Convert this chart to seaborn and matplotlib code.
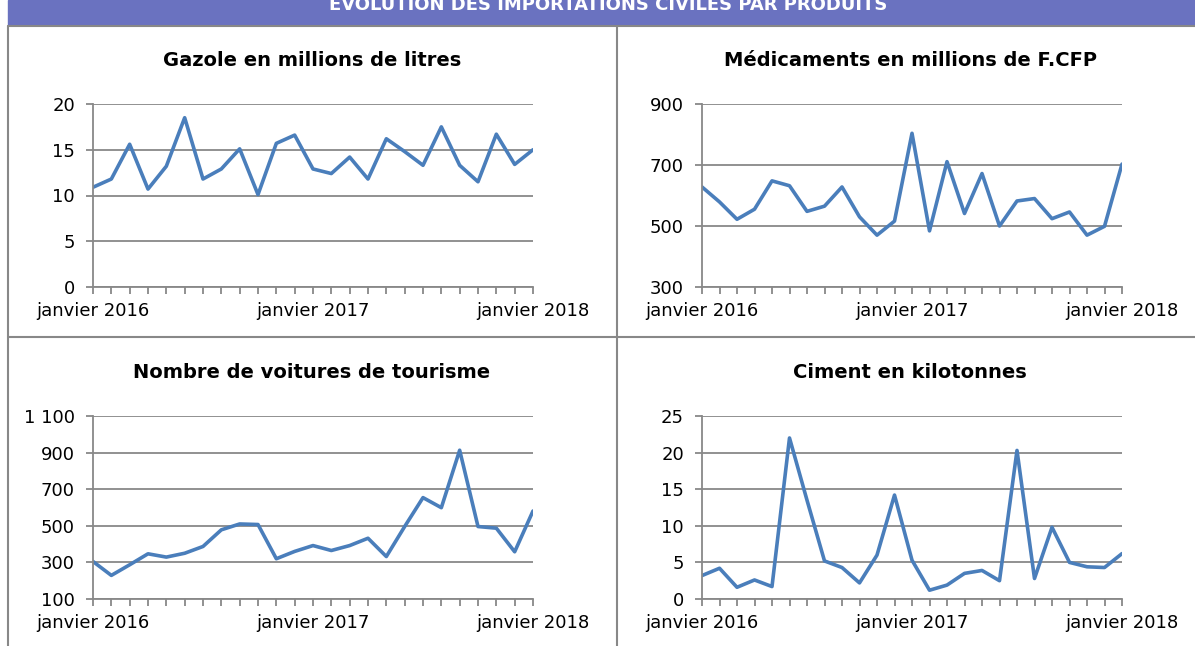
import numpy as np
import pandas as pd
import seaborn as sns
import matplotlib.pyplot as plt
from matplotlib.lines import Line2D
from matplotlib.patches import Rectangle
from matplotlib.ticker import FuncFormatter

sns.set_style("white")
plt.rcParams['font.family'] = ['DejaVu Sans']
plt.rcParams['text.color'] = 'black'

# ------ données (mensuelles, janvier 2016 -> janvier 2018) ------ #
mois = [d.strftime('%m/%Y') for d in pd.date_range('2016-01-01', periods=25, freq='MS')]
mois_labels = ['janvier %s' % m[3:] if m.startswith('01') else '' for m in mois]

gazole = [10.9, 11.8, 15.6, 10.7, 13.2, 18.5, 11.8, 12.9, 15.1, 10.1, 15.7, 16.6,
          12.9, 12.4, 14.2, 11.8, 16.2, 14.8, 13.3, 17.5, 13.3, 11.5, 16.7, 13.4, 15.0]
medicaments = [628, 579, 522, 555, 648, 632, 548, 565, 628, 530, 470, 516,
               804, 484, 711, 541, 672, 500, 582, 590, 524, 546, 470, 499, 703]
voitures = [305, 229, 287, 347, 329, 350, 387, 478, 510, 507, 320, 360,
            392, 365, 392, 432, 332, 496, 654, 599, 913, 496, 487, 358, 581]
ciment = [3.2, 4.2, 1.6, 2.6, 1.7, 22.0, 13.5, 5.2, 4.3, 2.2, 6.0, 14.2,
          5.3, 1.2, 1.9, 3.5, 3.9, 2.5, 20.3, 2.8, 9.8, 5.0, 4.4, 4.3, 6.2]

titre = 'ÉVOLUTION DES IMPORTATIONS CIVILES PAR PRODUITS'
panneaux = [
    ('Gazole en millions de litres', gazole, (0, 20), [0, 5, 10, 15, 20]),
    ('Médicaments en millions de F.CFP', medicaments, (300, 900), [300, 500, 700, 900]),
    ('Nombre de voitures de tourisme', voitures, (100, 1100), [100, 300, 500, 700, 900, 1100]),
    ('Ciment en kilotonnes', ciment, (0, 25), [0, 5, 10, 15, 20, 25]),
]

W, H = 1195, 646
fig = plt.figure(figsize=(W / 100, H / 100), dpi=100, facecolor='w')

# positions en pixels : (gauche, haut, droite, bas)
boites = [(93, 104, 533, 287), (702, 104, 1122, 287),
          (93, 416, 533, 599), (702, 416, 1122, 599)]
centres_titres = [(312, 60), (910, 60), (312, 373), (910, 373)]

gris = '#888888'
bleu = '#4A7EBB'

def milliers(v, _):
    return '{:,.0f}'.format(v).replace(',', ' ')

for (nom, vals, ylim, yticks), (l, t, r, b), (cx, cy) in zip(panneaux, boites, centres_titres):
    ax = fig.add_axes([l / W, 1 - b / H, (r - l) / W, (b - t) / H])
    df = pd.DataFrame({'x': np.arange(len(mois)), 'val': vals})
    sns.lineplot(data=df, x='x', y='val', ax=ax, color=bleu, linewidth=2.6)
    ax.set_xlim(0, len(mois) - 1)
    ax.set_ylim(*ylim)
    ax.set_yticks(yticks)
    ax.yaxis.set_major_formatter(FuncFormatter(milliers))
    ax.set_xticks(np.arange(len(mois)))
    ax.set_xticklabels(mois_labels)
    ax.set_xlabel('')
    ax.set_ylabel('')
    ax.grid(axis='y', color=gris, linewidth=1.3)
    ax.set_axisbelow(True)
    for s in ['top', 'right']:
        ax.spines[s].set_visible(False)
    for s in ['left', 'bottom']:
        ax.spines[s].set_color(gris)
        ax.spines[s].set_linewidth(1.3)
    ax.tick_params(axis='both', direction='out', length=5, width=1.3,
                   bottom=True, left=True, color=gris,
                   labelsize=13, labelcolor='black')
    ax.tick_params(axis='y', pad=8)
    ax.tick_params(axis='x', pad=6)
    fig.text(cx / W, 1 - cy / H, nom, ha='center', va='center',
             fontsize=14, fontweight='bold', color='black')

# ------ bandeau et cadres ------ #
fig.patches.append(Rectangle((8 / W, 1 - 25 / H), 1 - 8 / W, 25 / H,
                             transform=fig.transFigure, color='#6A72C0', zorder=0))
fig.text(608 / W, 1 - 10 / H, titre, ha='center', va='baseline', color='white',
         fontsize=13, fontweight='bold')
for xs, ys in [((8, W), (26, 26)), ((8, 8), (26, H)), ((617, 617), (26, H)),
               ((8, W), (337, 337))]:
    fig.lines.append(Line2D([x / W for x in xs], [1 - y / H for y in ys],
                            transform=fig.transFigure, color=gris, linewidth=1.5))

plt.savefig('out.png', dpi=100)
